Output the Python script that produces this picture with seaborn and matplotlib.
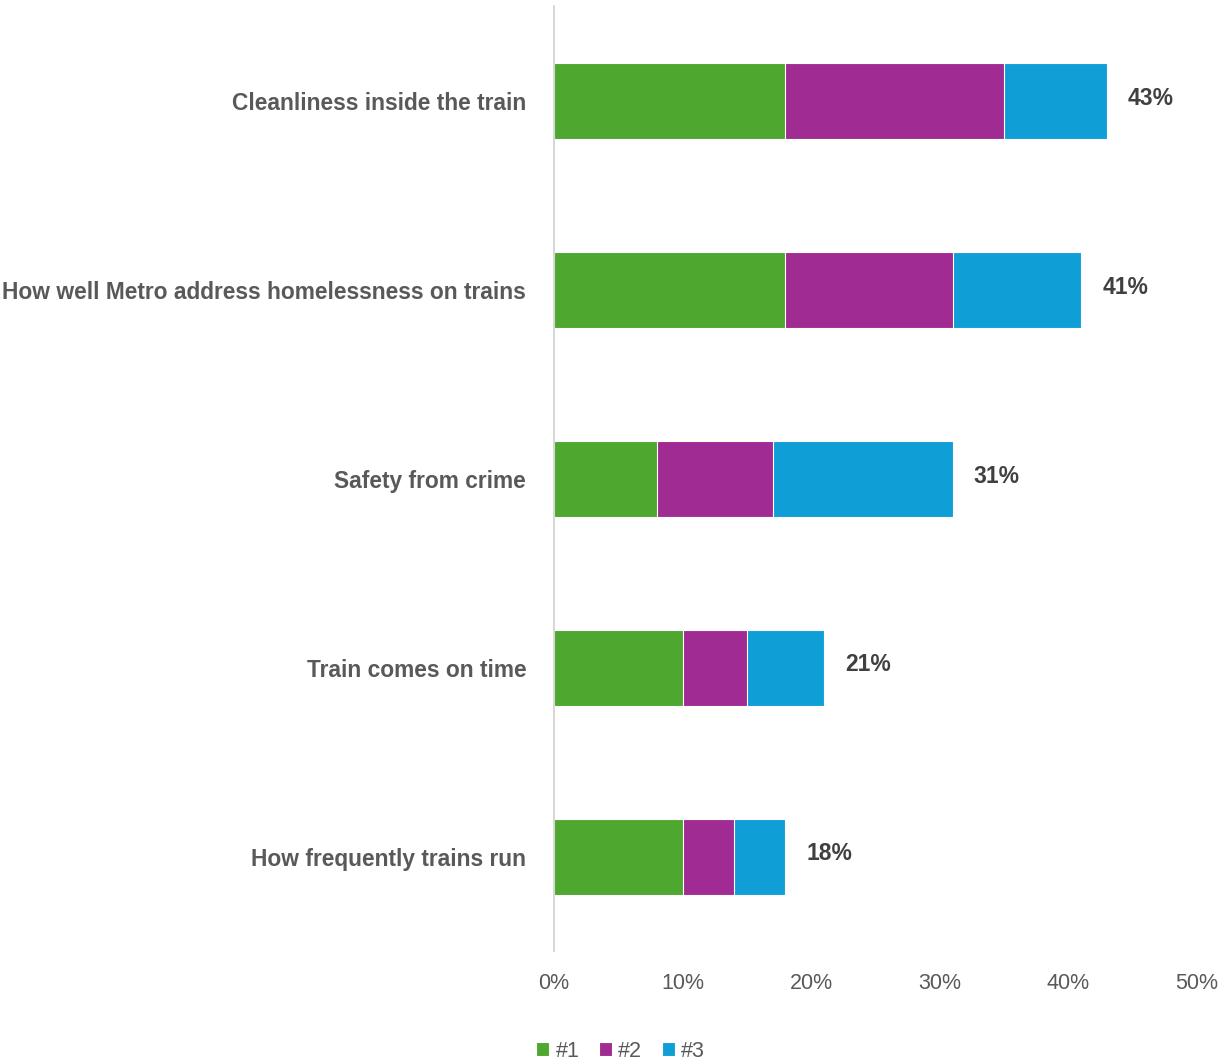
import matplotlib
matplotlib.use("Agg")
import matplotlib.pyplot as plt
import seaborn as sns
import numpy as np
import pandas as pd

categories = ["Cleanliness inside the train",
              "How well Metro address homelessness on trains",
              "Safety from crime",
              "Train comes on time",
              "How frequently trains run"]
rank1 = [18, 18, 8, 10, 10]
rank2 = [17, 13, 9, 5, 4]
rank3 = [8, 10, 14, 6, 4]
series_names = ["#1", "#2", "#3"]
xticks = [0, 10, 20, 30, 40, 50]

colors = ["#4EA72E", "#A02B93", "#0F9ED5"]

sns.set_theme(style="white")
plt.rcParams['font.family'] = ['Liberation Sans', 'DejaVu Sans']

fig = plt.figure(figsize=(12.24, 10.64), dpi=100)
ax = fig.add_axes([0.4526, 0.106, 0.5254, 0.888])

c1 = np.array(rank1)
c2 = c1 + np.array(rank2)
c3 = c2 + np.array(rank3)

df = pd.DataFrame({"cat": categories, "c1": c1, "c2": c2, "c3": c3})
for col, color, name in [("c3", colors[2], series_names[2]),
                         ("c2", colors[1], series_names[1]),
                         ("c1", colors[0], series_names[0])]:
    sns.barplot(data=df, x=col, y="cat", orient="h", color=color, width=0.4,
                saturation=1, edgecolor="white", linewidth=0.8, ax=ax, label=name)

for i, tot in enumerate(c3):
    ax.annotate(f"{tot}%", xy=(tot, i), xytext=(15, 2), textcoords="offset points",
                ha="left", va="center", fontsize=16.5, fontweight="bold", color="#404040")

ax.set_xlim(0, 50)
ax.set_ylim(4.5, -0.5)
ax.set_xticks(xticks)
ax.set_xticklabels([f"{t}%" for t in xticks], fontsize=15.5, color="#595959")
ax.tick_params(axis="x", pad=16, length=0)
ax.tick_params(axis="y", pad=20, length=0)
for lab in ax.get_yticklabels():
    lab.set_fontsize(16.4)
    lab.set_fontweight("bold")
    lab.set_color("#595959")
ax.set_xlabel("")
ax.set_ylabel("")
for s in ["top", "right", "bottom"]:
    ax.spines[s].set_visible(False)
ax.spines["left"].set_color("#D0D0D0")
ax.spines["left"].set_linewidth(1.2)
ax.grid(False)

handles, labels = ax.get_legend_handles_labels()
order = [labels.index(n) for n in series_names]
leg = fig.legend([handles[i] for i in order], [labels[i] for i in order],
                 loc="center", bbox_to_anchor=(0.507, 0.012), ncol=3, frameon=False,
                 fontsize=15.5, handlelength=0.6, handleheight=0.6, handletextpad=0.3,
                 columnspacing=0.9)
for t in leg.get_texts():
    t.set_color("#595959")
if ax.get_legend():
    ax.get_legend().remove()

fig.savefig("out.png", dpi=100)
